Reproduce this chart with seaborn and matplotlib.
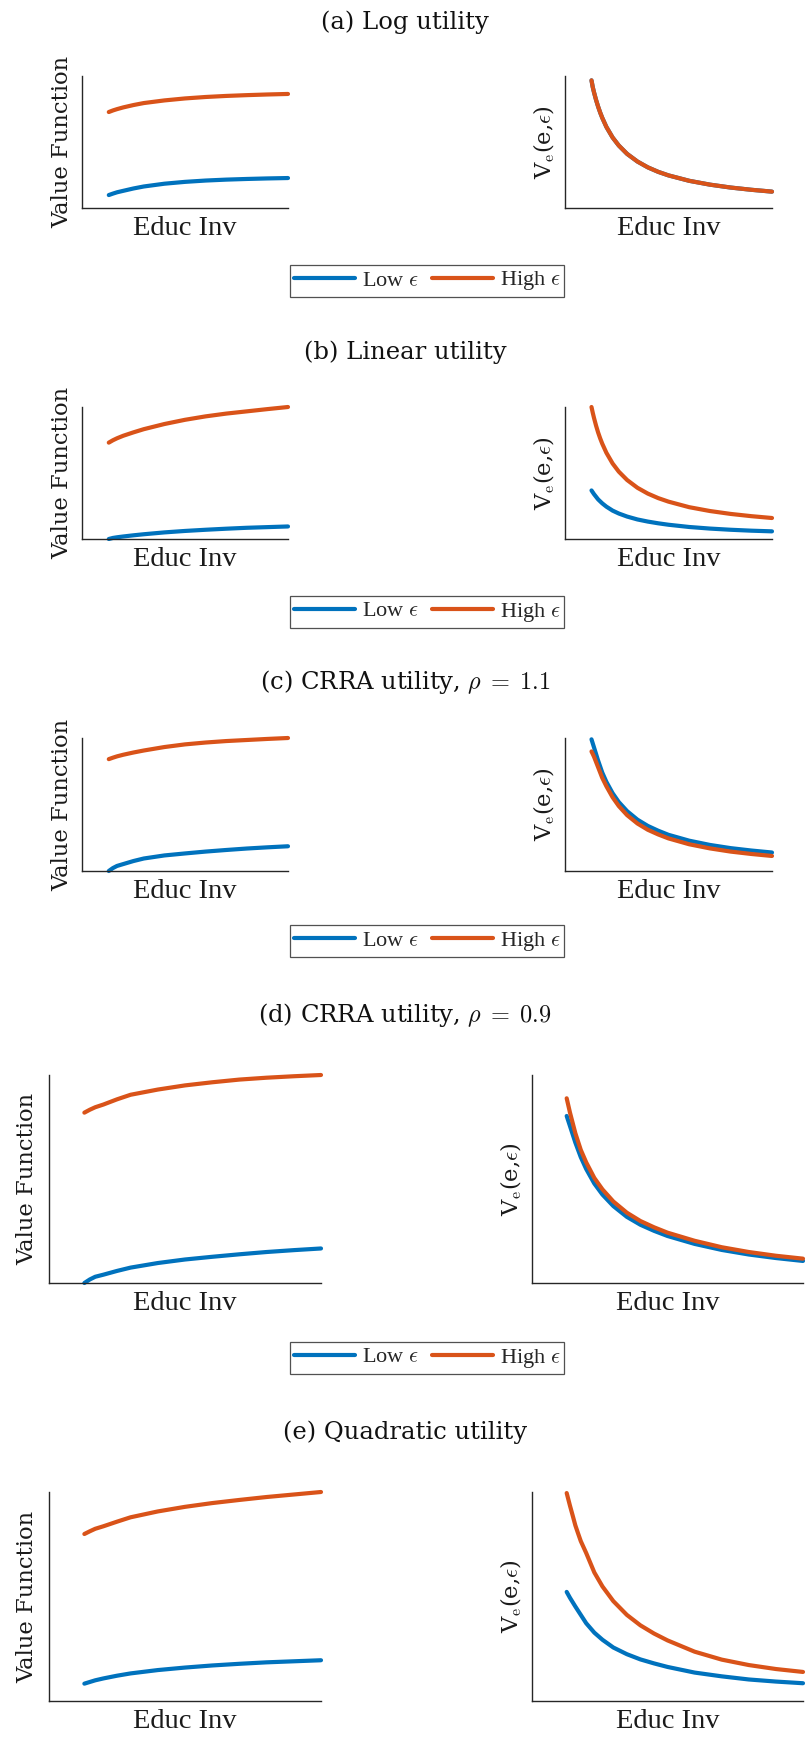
import numpy as np
import pandas as pd
import seaborn as sns
import matplotlib.pyplot as plt
from matplotlib.lines import Line2D

sns.set_theme(style="white")
plt.rcParams["font.family"] = ["DejaVu Serif"]
plt.rcParams["mathtext.fontset"] = "cm"

# ---------------- data (normalised units) ----------------
x_rise = [0.13, 0.15, 0.17, 0.2, 0.25, 0.3, 0.4, 0.5, 0.6, 0.7, 0.8, 0.9, 1.0]
x_fall = [0.128, 0.134, 0.14, 0.15, 0.16, 0.17, 0.18, 0.2, 0.23, 0.26, 0.3, 0.35,
          0.4, 0.45, 0.5, 0.6, 0.7, 0.8, 0.9, 1.0]

titles = ["(a) Log utility", "(b) Linear utility", r"(c) CRRA utility, $\rho\;=\;1.1$",
          r"(d) CRRA utility, $\rho\;=\;0.9$", "(e) Quadratic utility"]
series_names = [r"Low $\epsilon$", r"High $\epsilon$"]

# (a) log utility
a_vf_low = [0.098, 0.109, 0.119, 0.130, 0.148, 0.163, 0.184, 0.198, 0.208, 0.215, 0.220, 0.224, 0.227]
a_vf_high = [0.727, 0.739, 0.749, 0.762, 0.780, 0.795, 0.815, 0.830, 0.841, 0.849, 0.855, 0.860, 0.864]
a_ve_low = [0.967, 0.916, 0.877, 0.819, 0.768, 0.723, 0.683, 0.614, 0.534, 0.473, 0.410, 0.352,
            0.308, 0.274, 0.247, 0.206, 0.177, 0.155, 0.138, 0.124]
a_ve_high = [0.967, 0.916, 0.877, 0.819, 0.768, 0.723, 0.683, 0.614, 0.534, 0.473, 0.410, 0.352,
             0.308, 0.274, 0.247, 0.206, 0.177, 0.155, 0.138, 0.124]

# (b) linear utility
b_vf_low = [0.0, 0.008, 0.013, 0.019, 0.028, 0.036, 0.050, 0.061, 0.070, 0.078, 0.085, 0.090, 0.095]
b_vf_high = [0.730, 0.748, 0.763, 0.782, 0.808, 0.832, 0.871, 0.903, 0.929, 0.950, 0.967, 0.984, 1.0]
b_ve_low = [0.368, 0.354, 0.340, 0.320, 0.300, 0.285, 0.270, 0.245, 0.215, 0.193, 0.170, 0.148,
            0.132, 0.119, 0.108, 0.091, 0.079, 0.070, 0.063, 0.058]
b_ve_high = [1.0, 0.957, 0.918, 0.859, 0.807, 0.762, 0.722, 0.653, 0.572, 0.510, 0.447, 0.388,
             0.344, 0.310, 0.283, 0.241, 0.212, 0.190, 0.173, 0.159]

# (c) CRRA rho = 1.1
c_vf_low = [0.0, 0.022, 0.038, 0.052, 0.075, 0.094, 0.117, 0.132, 0.146, 0.158, 0.169, 0.178, 0.186]
c_vf_high = [0.841, 0.852, 0.862, 0.874, 0.891, 0.906, 0.932, 0.952, 0.966, 0.977, 0.985, 0.993, 1.0]
c_ve_low = [0.99, 0.96, 0.93, 0.88, 0.83, 0.785, 0.74, 0.67, 0.585, 0.518, 0.450, 0.386,
            0.339, 0.303, 0.272, 0.228, 0.196, 0.172, 0.154, 0.139]
c_ve_high = [0.899, 0.88, 0.86, 0.82, 0.78, 0.74, 0.70, 0.637, 0.554, 0.488, 0.420, 0.357,
             0.310, 0.275, 0.245, 0.201, 0.170, 0.146, 0.128, 0.113]

# (d) CRRA rho = 0.9
d_vf_low = [0.0, 0.017, 0.030, 0.040, 0.058, 0.074, 0.096, 0.113, 0.126, 0.138, 0.149, 0.158, 0.166]
d_vf_high = [0.819, 0.833, 0.845, 0.858, 0.883, 0.905, 0.930, 0.950, 0.965, 0.978, 0.987, 0.994, 1.0]
d_ve_low = [0.803, 0.779, 0.755, 0.715, 0.675, 0.640, 0.605, 0.548, 0.478, 0.425, 0.370, 0.318,
            0.280, 0.251, 0.226, 0.188, 0.159, 0.137, 0.120, 0.106]
d_ve_high = [0.888, 0.854, 0.82, 0.77, 0.72, 0.68, 0.64, 0.58, 0.505, 0.450, 0.392, 0.338,
             0.298, 0.268, 0.242, 0.203, 0.172, 0.149, 0.131, 0.117]

# (e) quadratic utility
e_vf_low = [0.083, 0.091, 0.099, 0.108, 0.121, 0.132, 0.148, 0.160, 0.170, 0.178, 0.185, 0.190, 0.195]
e_vf_high = [0.799, 0.812, 0.824, 0.836, 0.858, 0.879, 0.907, 0.929, 0.947, 0.962, 0.976, 0.988, 1.0]
e_ve_low = [0.522, 0.508, 0.494, 0.473, 0.452, 0.432, 0.412, 0.372, 0.327, 0.293, 0.256, 0.224,
            0.199, 0.180, 0.163, 0.136, 0.118, 0.103, 0.093, 0.085]
e_ve_high = [0.995, 0.965, 0.935, 0.888, 0.84, 0.802, 0.765, 0.708, 0.615, 0.548, 0.478, 0.412,
             0.362, 0.323, 0.290, 0.236, 0.198, 0.172, 0.153, 0.139]

panels = [
    (a_vf_low, a_vf_high, a_ve_low, a_ve_high),
    (b_vf_low, b_vf_high, b_ve_low, b_ve_high),
    (c_vf_low, c_vf_high, c_ve_low, c_ve_high),
    (d_vf_low, d_vf_high, d_ve_low, d_ve_high),
    (e_vf_low, e_vf_high, e_ve_low, e_ve_high),
]

# ---------------- layout (pixels) ----------------
W, H = 806, 1739
BLUE, ORANGE = "#0072BD", "#D95319"
SPINE = "#262626"
LW = 3.0

left_boxes = [(82, 76, 288, 208), (82, 407, 288, 539), (82, 738, 288, 871),
              (49, 1075, 321, 1283), (49, 1492, 321, 1701)]
right_boxes = [(565, 76, 772, 208), (565, 407, 772, 539), (565, 738, 772, 871),
               (532, 1075, 803, 1283), (532, 1492, 803, 1701)]
left_pad = [6, 6, 6, 8, 8]
title_y = [22, 352, 682, 1015, 1432]
legend_y = [281, 612, 941, 1358, None]


def pos(box):
    l, t, r, b = box
    return [l / W, 1 - b / H, (r - l) / W, (b - t) / H]


fig = plt.figure(figsize=(W / 100, H / 100), dpi=100)


def style(ax):
    ax.set_xlim(0, 1)
    ax.set_ylim(0, 1)
    ax.set_xticks([])
    ax.set_yticks([])
    for s in ["top", "right"]:
        ax.spines[s].set_visible(False)
    for s in ["left", "bottom"]:
        ax.spines[s].set_color(SPINE)
        ax.spines[s].set_linewidth(1.0)
    ax.set_xlabel("Educ Inv", fontsize=20.5, family="Liberation Serif", labelpad=6, color="#1a1a1a")


for i, (vf_low, vf_high, ve_low, ve_high) in enumerate(panels):
    axl = fig.add_axes(pos(left_boxes[i]))
    sns.lineplot(x=x_rise, y=vf_low, ax=axl, color=BLUE, linewidth=LW, sort=False, clip_on=False)
    sns.lineplot(x=x_rise, y=vf_high, ax=axl, color=ORANGE, linewidth=LW, sort=False, clip_on=False)
    style(axl)
    axl.set_ylabel("Value Function", fontsize=16.3, labelpad=left_pad[i], color="#1a1a1a")

    axr = fig.add_axes(pos(right_boxes[i]))
    sns.lineplot(x=x_fall, y=ve_low, ax=axr, color=BLUE, linewidth=LW, sort=False, clip_on=False)
    sns.lineplot(x=x_fall, y=ve_high, ax=axr, color=ORANGE, linewidth=LW, sort=False, clip_on=False)
    style(axr)
    axr.set_ylabel(r"V$_{\mathrm{e}}$(e,$\epsilon$)", fontsize=16.3, labelpad=6, color="#1a1a1a")

    fig.text(405 / W, 1 - title_y[i] / H, titles[i], ha="center", va="center",
             fontsize=17.5, color="#111111")

    if legend_y[i] is not None:
        handles = [Line2D([], [], color=BLUE, lw=LW), Line2D([], [], color=ORANGE, lw=LW)]
        leg = fig.legend(handles, series_names, loc="center", ncol=2,
                         bbox_to_anchor=(427 / W, 1 - legend_y[i] / H),
                         prop={"family": "Liberation Serif", "size": 16},
                         frameon=True, fancybox=False, edgecolor=SPINE,
                         handlelength=2.75, handletextpad=0.3, columnspacing=0.6,
                         borderpad=0.2, borderaxespad=0.0)
        leg.get_frame().set_linewidth(0.9)

fig.savefig("out.png", dpi=100)
